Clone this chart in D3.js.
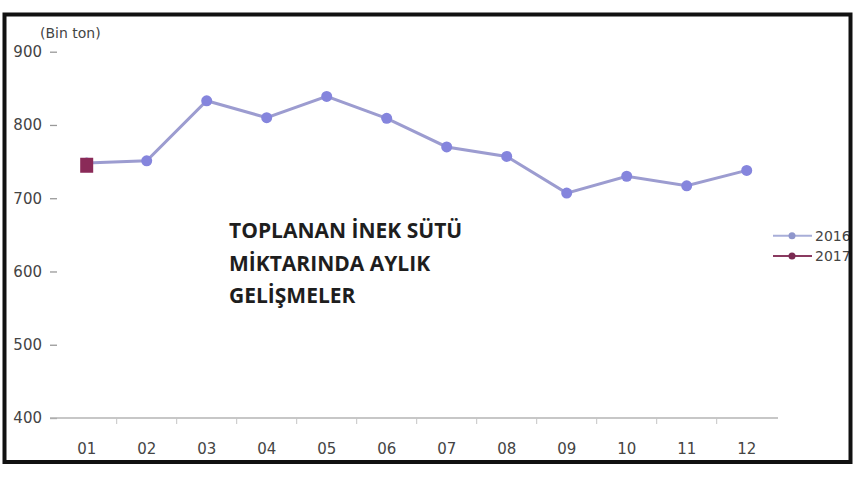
<!DOCTYPE html>
<html>
<head>
<meta charset="utf-8">
<script src="https://cdn.jsdelivr.net/npm/d3@7"></script>
<style>
  body { margin: 0; background: #fff; }
  svg { display: block; }
</style>
</head>
<body>
<svg class="chart_svg"></svg>
<script>
// monthly values, thousand tons
var months = ['01', '02', '03', '04', '05', '06', '07', '08', '09', '10', '11', '12'];
var values2016 = [748, 751, 833, 810, 839, 809, 770, 757, 707, 730, 717, 738];
var values2017 = [745];
var seriesNames = ['2016', '2017'];
var yTicks = [400, 500, 600, 700, 800, 900];
var unitLabel = '(Bin ton)';
var titleLines = ['TOPLANAN İNEK SÜTÜ', 'MİKTARINDA AYLIK', 'GELİŞMELER'];

var width = 860;
var height = 480;

var svg = d3.select('.chart_svg')
    .attr('width', width)
    .attr('height', height);

svg.append('rect')
    .attr('width', width)
    .attr('height', height)
    .attr('fill', '#fff');

var xScale = d3.scaleBand()
    .domain(months)
    .range([56.7, 776.7])
    .padding(0);

var yScale = d3.scaleLinear()
    .domain([400, 900])
    .range([418, 51.7]);

var cx = function(m) { return xScale(m) + xScale.bandwidth() / 2; };

// y axis: short dashes, no line
var yAxis = svg.append('g')
    .attr('transform', 'translate(57,0)')
    .call(d3.axisLeft(yScale).tickValues(yTicks).tickSize(7).tickPadding(8));
yAxis.select('.domain').remove();
yAxis.selectAll('line').attr('stroke', '#999').attr('stroke-width', 1.3);
yAxis.selectAll('text')
    .attr('fill', '#444')
    .style('font-family', 'DejaVu Sans')
    .style('font-size', '15px');

// x axis line + labels
svg.append('line')
    .attr('x1', 50).attr('x2', 778)
    .attr('y1', yScale(400)).attr('y2', yScale(400))
    .attr('stroke', '#b4b4b4')
    .attr('stroke-width', 1.6);

svg.selectAll('.x_tick')
    .data(months.slice(1))
    .join('line')
    .attr('class', 'x_tick')
    .attr('x1', d => xScale(d)).attr('x2', d => xScale(d))
    .attr('y1', yScale(400)).attr('y2', yScale(400) + 6)
    .attr('stroke', '#c4c4c4')
    .attr('stroke-width', 1);

var xAxis = svg.append('g')
    .attr('transform', `translate(0,${yScale(400)})`)
    .call(d3.axisBottom(xScale).tickSize(0).tickPadding(25));
xAxis.select('.domain').remove();
xAxis.selectAll('text')
    .attr('fill', '#444')
    .style('font-family', 'DejaVu Sans')
    .style('font-size', '15px');

// unit label
svg.append('text')
    .attr('x', 40)
    .attr('y', 38)
    .attr('fill', '#444')
    .style('font-family', 'DejaVu Sans')
    .style('font-size', '14px')
    .text(unitLabel);

// 2016 line
var line = d3.line()
    .x((d, i) => cx(months[i]))
    .y(d => yScale(d));

svg.append('path')
    .datum(values2016)
    .attr('d', line)
    .attr('fill', 'none')
    .attr('stroke', '#9c9cd0')
    .attr('stroke-width', 3);

svg.selectAll('.pt2016')
    .data(values2016)
    .join('circle')
    .attr('class', 'pt2016')
    .attr('cx', (d, i) => cx(months[i]))
    .attr('cy', d => yScale(d))
    .attr('r', 5.5)
    .attr('fill', '#8585dd');

// 2017 points
svg.selectAll('.pt2017')
    .data(values2017)
    .join('rect')
    .attr('class', 'pt2017')
    .attr('x', (d, i) => cx(months[i]) - 6.5)
    .attr('y', d => yScale(d) - 7.5)
    .attr('width', 13)
    .attr('height', 15)
    .attr('fill', '#8a2a58');

// title inside plot
svg.append('g').selectAll('text')
    .data(titleLines)
    .join('text')
    .attr('x', 229)
    .attr('y', (d, i) => 238 + i * 32.5)
    .attr('fill', '#1e1e1e')
    .style('font-family', 'Open Sans')
    .style('font-weight', 'bold')
    .style('font-size', '21px')
    .text(d => d);

// legend
var legendColors = ['#a8aed8', '#8a3a60'];
var legend = svg.append('g').selectAll('g')
    .data(seriesNames)
    .join('g')
    .attr('transform', (d, i) => `translate(773,${235.7 + i * 20.3})`);
legend.append('line')
    .attr('x1', 0).attr('x2', 39)
    .attr('stroke', (d, i) => legendColors[i])
    .attr('stroke-width', 2);
legend.append('circle')
    .attr('cx', 19).attr('r', 3.5)
    .attr('fill', (d, i) => i === 0 ? '#8f96cc' : '#7a2a52');
legend.append('text')
    .attr('x', 42)
    .attr('dy', '0.36em')
    .attr('fill', '#444')
    .style('font-family', 'DejaVu Sans')
    .style('font-size', '14px')
    .text(d => d);

// black frame around everything
svg.append('rect')
    .attr('x', 4.5).attr('y', 14.5)
    .attr('width', 846).attr('height', 447.5)
    .attr('fill', 'none')
    .attr('stroke', '#111')
    .attr('stroke-width', 4);
</script>
</body>
</html>
